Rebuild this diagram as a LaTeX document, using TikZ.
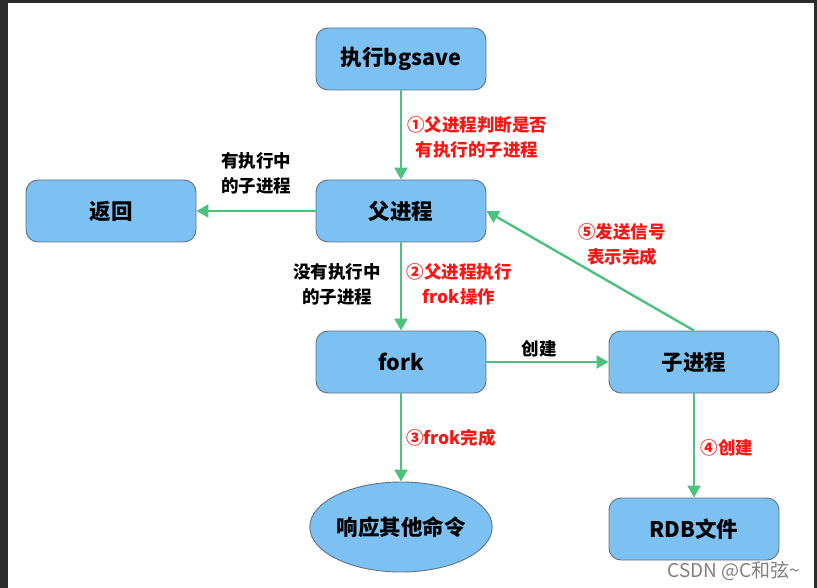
\documentclass[tikz,border=0pt]{standalone}
\usepackage{fontspec}
\setmainfont{Noto Sans CJK SC}
\usetikzlibrary{arrows.meta,shapes.geometric}

\definecolor{boxfill}{RGB}{124,193,241}
\definecolor{boxline}{RGB}{100,115,130}
\definecolor{flowgreen}{RGB}{77,194,127}
\definecolor{notered}{RGB}{255,20,20}
\definecolor{framedark}{RGB}{43,43,43}

\begin{document}
\begin{tikzpicture}[x=1pt,y=-1pt,
  procbox/.style={draw=boxline, line width=0.9pt, fill=boxfill,
    rounded corners=12pt, minimum width=170pt, minimum height=62pt,
    inner sep=0pt, font=\fontsize{21.5}{26}\selectfont\bfseries},
  procoval/.style={ellipse, draw=boxline, line width=0.9pt, fill=boxfill,
    minimum width=168pt, minimum height=90pt, inner sep=0pt,
    font=\fontsize{21.5}{26}\selectfont\bfseries},
  flow/.style={draw=flowgreen, line width=2.4pt,
    -{Triangle[width=13pt,length=12pt]}},
  condnote/.style={align=center, inner sep=0pt, text=black,
    font=\fontsize{17.5}{25}\selectfont\bfseries},
  rednote/.style={align=center, inner sep=0pt, text=notered,
    font=\fontsize{17.5}{25}\selectfont\bfseries},
]
\useasboundingbox (0,0) rectangle (817,588);
% dark window frame and white canvas
\fill[framedark] (0,0) rectangle (817,588);
\fill[white] (8,3) rectangle (814,588);

% process boxes
\node[procbox] (bgsave) at (401,59)  {执行bgsave};
\node[procbox] (parent) at (401,211) {父进程};
\node[procbox] (ret)    at (111,211) {返回};
\node[procbox] (fork)   at (401,362) {fork};
\node[procbox] (child)  at (694,362) {子进程};
\node[procbox] (rdb)    at (694,529) {RDB文件};
\node[procoval] (resp)  at (401,527) {响应其他命令};

% connectors
\draw[flow] (bgsave) -- (parent);
\draw[flow] (parent) -- (ret);
\draw[flow] (parent) -- (fork);
\draw[flow] (fork) -- (child);
\draw[flow] (fork) -- (resp);
\draw[flow] (child) -- (rdb);
\draw[flow] (child.north) -- (parent.east);

% connector labels
\node[rednote]  (n1) at (477,137) {①父进程判断是否\\有执行的子进程};
\node[condnote] (c1) at (256,173) {有执行中\\的子进程};
\node[condnote] (c2) at (337,284) {没有执行中\\的子进程};
\node[rednote]  (n2) at (459,284) {②父进程执行\\frok操作};
\node[condnote] (c3) at (539,349) {创建};
\node[rednote]  (n5) at (622,244) {⑤发送信号\\表示完成};
\node[rednote]  (n3) at (451,438) {③frok完成};
\node[rednote]  (n4) at (727,448) {④创建};

% watermark
\node[text=black!50, inner sep=0pt, font=\fontsize{19}{22}\selectfont]
  (mark) at (734,571) {CSDN @C和弦\textasciitilde};
\end{tikzpicture}
\end{document}
